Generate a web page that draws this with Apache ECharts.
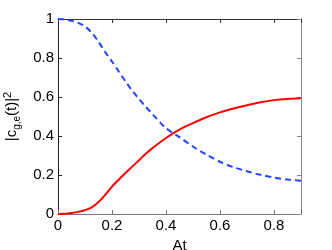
<!DOCTYPE html>
<html><head><meta charset="utf-8">
<script src="https://cdn.jsdelivr.net/npm/echarts@6/dist/echarts.min.js"></script>
<style>html,body{margin:0;padding:0;background:#fff}#c{width:332px;height:250px}</style>
</head><body><div id="c"></div>
<script>
const xVals = [0,0.025,0.05,0.075,0.1,0.125,0.15,0.175,0.2,0.225,0.25,0.275,0.3,0.325,0.35,0.4,0.45,0.5,0.55,0.6,0.65,0.7,0.75,0.8,0.85,0.9];
const redVals = [0,0.001,0.005,0.011,0.02,0.034,0.061,0.098,0.14,0.176,0.21,0.243,0.276,0.309,0.338,0.39,0.433,0.466,0.496,0.521,0.541,0.558,0.573,0.584,0.59,0.593];
const blueVals = [1,0.998,0.991,0.98,0.962,0.93,0.883,0.83,0.782,0.731,0.68,0.632,0.59,0.55,0.512,0.44,0.394,0.346,0.304,0.268,0.24,0.219,0.201,0.187,0.177,0.171];
const xTicks = [0,0.2,0.4,0.6,0.8];
const yTicks = [0,0.2,0.4,0.6,0.8,1];

const font = 'Liberation Sans';
const pair = (ys) => xVals.map((x,i)=>[x,ys[i]]);
const chart = echarts.init(document.getElementById('c'), null, {renderer:'canvas'});
const baseAxis = (color)=>({
  axisLine:{show:true,onZero:false,lineStyle:{color:color,width:1}},
  axisTick:{show:true,inside:true,length:4,lineStyle:{color:color}},
  splitLine:{show:false}
});
chart.setOption({
  animation:false,
  grid:{left:58,top:19,right:31,bottom:36,containLabel:false,outerBoundsMode:'none'},
  xAxis:[
    Object.assign(baseAxis('#777'),{type:'value',min:0,max:0.9,interval:0.2,position:'bottom',
      axisLabel:{show:true,color:'#000',fontFamily:font,fontSize:15,margin:4,
        formatter:(v)=>xTicks.includes(+v.toFixed(2))?String(+v.toFixed(2)):''},
      name:'At',nameLocation:'middle',nameGap:22,nameTextStyle:{color:'#000',fontFamily:font,fontSize:15}}),
    Object.assign(baseAxis('#333'),{type:'value',min:0,max:0.9,interval:0.2,position:'top',axisLabel:{show:false}})
  ],
  yAxis:[
    Object.assign(baseAxis('#222'),{type:'value',min:0,max:1,interval:0.2,position:'left',
      axisLabel:{show:true,color:'#000',fontFamily:font,fontSize:15,margin:4,
        formatter:(v)=>yTicks.includes(+v.toFixed(2))?String(+v.toFixed(2)):''},
      name:'|c{sub|g,e}(t)|{sup|2}',nameLocation:'middle',nameGap:38,nameRotate:90,
      nameTextStyle:{color:'#000',fontFamily:font,fontSize:15,lineHeight:20,verticalAlign:'middle',
        rich:{sub:{fontFamily:font,fontSize:10,lineHeight:10,verticalAlign:'bottom',color:'#000'},
              sup:{fontFamily:font,fontSize:11,lineHeight:10,verticalAlign:'top',color:'#000'}}}}),
    Object.assign(baseAxis('#888'),{type:'value',min:0,max:1,interval:0.2,position:'right',axisLabel:{show:false}})
  ],
  series:[
    {type:'line',data:pair(redVals),smooth:0.3,showSymbol:false,lineStyle:{color:'#ff0000',width:2},z:3},
    {type:'line',data:pair(blueVals),smooth:0.3,showSymbol:false,lineStyle:{color:'#2244ff',width:2,type:[6,4]},z:4}
  ]
});
</script></body></html>
